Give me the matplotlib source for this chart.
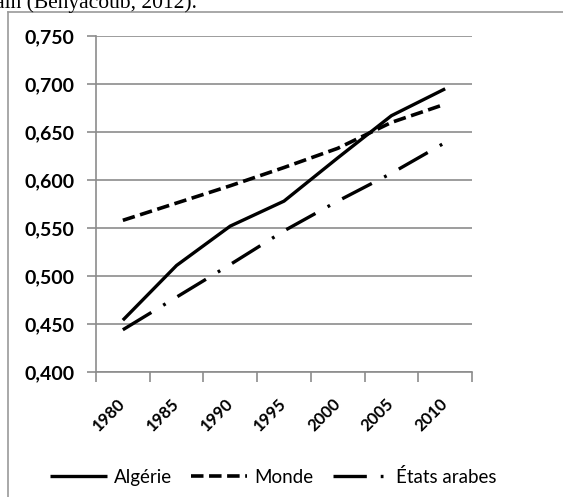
import matplotlib
matplotlib.use("Agg")
import matplotlib.pyplot as plt
from matplotlib.lines import Line2D

plt.rcParams['font.family'] = ['Lato', 'DejaVu Sans']
plt.rcParams['lines.scale_dashes'] = False

years = ['1980', '1985', '1990', '1995', '2000', '2005', '2010']
algerie = [0.454, 0.511, 0.552, 0.578, 0.623, 0.667, 0.695]
monde = [0.558, 0.576, 0.594, 0.613, 0.633, 0.660, 0.679]
etats_arabes = [0.444, 0.478, 0.512, 0.547, 0.578, 0.607, 0.639]
y_ticks = [0.400, 0.450, 0.500, 0.550, 0.600, 0.650, 0.700, 0.750]
y_labels = ['0,400', '0,450', '0,500', '0,550', '0,600', '0,650', '0,700', '0,750']

W, H = 563, 497
fig = plt.figure(figsize=(W / 100, H / 100), dpi=100)
ax = fig.add_axes([96 / W, 1 - 372 / H, (472 - 96) / W, (372 - 36) / H])

grey = '#8c8c8c'
x = list(range(len(years)))
la, = ax.plot(x, algerie, color='black', lw=2.4, solid_capstyle='butt', label='Algérie')
lm, = ax.plot(x, monde, color='black', lw=2.6, linestyle=(0, (9, 4)), label='Monde')
le, = ax.plot(x, etats_arabes, color='black', lw=2.4, linestyle=(0, (24, 10, 2, 10)), label='États arabes')

ax.set_ylim(0.400, 0.750)
ax.set_xlim(-0.5, len(years) - 0.5)
ax.set_yticks(y_ticks)
ax.set_yticklabels(y_labels, fontsize=14, fontweight='bold')
ax.grid(axis='y', color=grey, lw=1.2)
ax.set_axisbelow(True)

ax.set_xticks([i - 0.5 for i in range(len(years) + 1)])
ax.set_xticklabels([])
ax.set_xticks(x, minor=True)
ax.set_xticklabels(years, minor=True, rotation=45, ha='right', va='center',
                   rotation_mode='anchor', fontsize=12, fontweight='bold')
ax.tick_params(axis='x', which='minor', length=0, pad=21)
ax.tick_params(axis='x', which='major', length=7, color=grey, width=1.2, direction='out')
ax.tick_params(axis='y', length=6.5, color=grey, width=1.2, direction='out', pad=9)

for s in ['top', 'right']:
    ax.spines[s].set_visible(False)
for s in ['left', 'bottom']:
    ax.spines[s].set_color(grey)
    ax.spines[s].set_linewidth(1.2)

leg = fig.legend(handles=[la, lm, le], loc='center', bbox_to_anchor=(273.5 / W, 1 - 477 / H),
                 ncol=3, frameon=False, fontsize=13.5, handlelength=3.0,
                 handletextpad=0.4, columnspacing=1.0)

# outer frame of the chart
fig.add_artist(Line2D([8 / W, 1.0], [1 - 12 / H, 1 - 12 / H], transform=fig.transFigure, color='#9a9a9a', lw=1.2))
fig.add_artist(Line2D([8 / W, 8 / W], [1 - 12 / H, 0.0], transform=fig.transFigure, color='#9a9a9a', lw=1.2))

# caption text from the page above the chart (cut off)
fig.text(-12 / W, 1 - 8 / H, 'rain (Benyacoub, 2012).', fontsize=15.5,
         family=['Liberation Serif', 'DejaVu Serif'], va='baseline', ha='left')

fig.savefig('out.png', dpi=100)
